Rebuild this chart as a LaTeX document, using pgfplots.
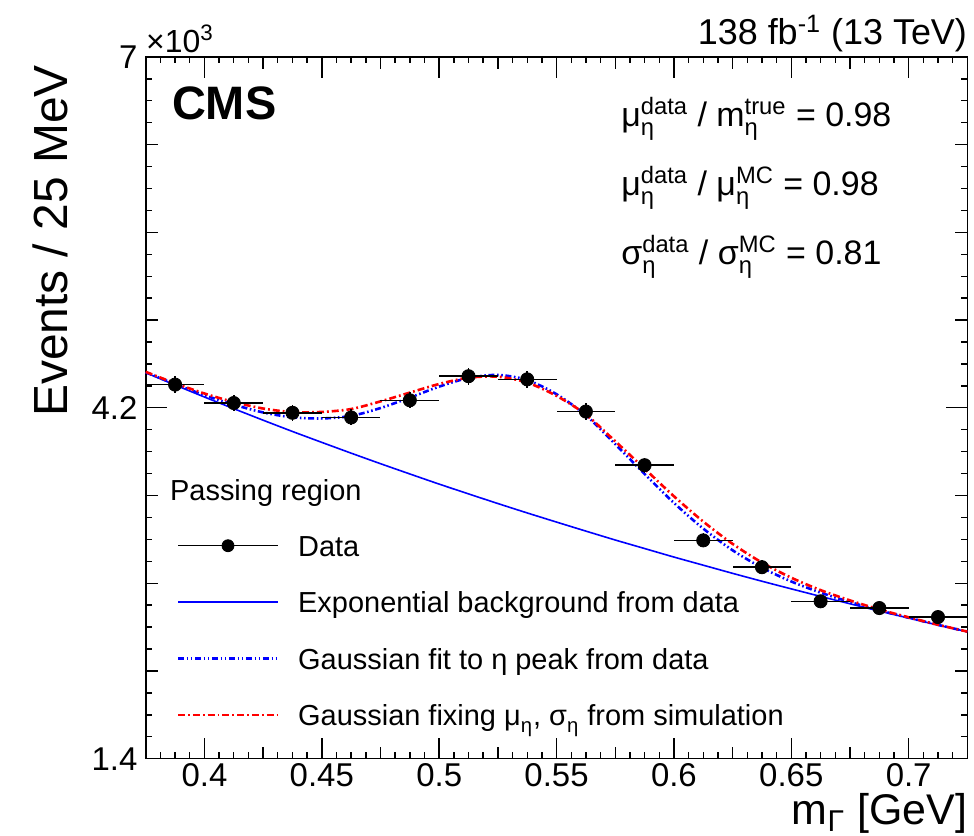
\documentclass[border=0pt]{standalone}
\usepackage{fontspec}
\setmainfont{Liberation Sans}
\usepackage{amsmath}
\usepackage{pgfplots}
\usepackage{pgfplotstable}
\pgfplotsset{compat=1.18}

% symbol with stacked super/subscript, e.g. mu^data_eta
\newcommand{\sm}[3]{#1$^{\text{#2}}_{\text{#3}}$}

\pgfplotstableread{
x      y     ex      ey
0.3875 4385  0.0125  66
0.4125 4238  0.0125  65
0.4375 4160  0.0125  65
0.4625 4123  0.0125  64
0.4875 4260  0.0125  65
0.5125 4452  0.0125  67
0.5375 4427  0.0125  67
0.5625 4170  0.0125  65
0.5875 3742  0.0125  61
0.6125 3142  0.0125  56
0.6375 2928  0.0125  54
0.6625 2656  0.0125  52
0.6875 2602  0.0125  51
0.7125 2530  0.0125  50
}\datatab

% background, fit to data, fit with MC parameters
\pgfplotstableread{
x      bkg   fit   fix
0.375  4480  4483  4487
0.3875 4382  4389  4396
0.4    4286  4301  4314
0.4125 4193  4225  4246
0.425  4101  4163  4194
0.4375 4011  4124  4166
0.45   3924  4115  4167
0.4625 3838  4135  4190
0.475  3754  4198  4251
0.4875 3672  4281  4321
0.5    3591  4369  4390
0.5125 3513  4438  4440
0.525  3436  4462  4448
0.5375 3361  4421  4401
0.55   3288  4308  4295
0.5625 3216  4140  4146
0.575  3145  3910  3933
0.5875 3077  3672  3714
0.6    3009  3441  3494
0.6125 2944  3236  3292
0.625  2879  3063  3114
0.6375 2816  2924  2965
0.65   2755  2814  2844
0.6625 2695  2725  2745
0.675  2636  2650  2663
0.6875 2578  2584  2591
0.7    2522  2525  2528
0.7125 2466  2468  2469
0.725  2413  2414  2414
}\curves

\begin{document}
\begin{tikzpicture}
\begin{axis}[
  scale only axis,
  width=411.5pt, height=351.5pt,
  xmin=0.375, xmax=0.725,
  ymin=1400, ymax=7000,
  clip=false,
  axis line style={line width=0.8pt},
  tick align=inside,
  major tick length=10.5pt,
  minor tick length=3.2pt,
  every tick/.style={black, line width=0.7pt},
  xtick={0.4,0.45,0.5,0.55,0.6,0.65,0.7},
  xticklabels={0.4,0.45,0.5,0.55,0.6,0.65,0.7},
  minor xtick={0.375,0.38125,...,0.7251},
  extra x ticks={0.375,0.4,...,0.7251},
  extra x tick style={major tick length=6pt, xticklabel={}},
  ytick={1400,4200,7000},
  yticklabels={1.4,4.2,7},
  minor ytick={1400,1575,...,7000},
  extra y ticks={1400,2100,...,7000},
  extra y tick style={major tick length=6pt, yticklabel={}},
  tick label style={font=\fontsize{16.5}{19}\selectfont, inner sep=4pt},
  x tick label style={inner sep=2pt},
  ylabel={Events / 25 MeV},
  ylabel style={at={(rel axis cs:-0.0948,0.9886)}, anchor=base east,
    inner sep=0pt, font=\fontsize{24}{28}\selectfont},
  xlabel={m$_{\text{Γ}}$ [GeV]},
  xlabel style={at={(rel axis cs:1,-0.0939)}, anchor=base east,
    inner sep=0pt, font=\fontsize{21.5}{25}\selectfont},
  legend style={at={(0.0373,0.3292)}, anchor=north west, draw=none,
    fill=none, inner sep=0pt, row sep=10.6pt,
    font=\fontsize{14.5}{17.4}\selectfont,
    /tikz/every odd column/.append style={column sep=7.5pt}},
  legend cell align=left,
]
\addplot[blue, line width=0.8pt, smooth, forget plot]
  table[x=x, y=bkg]{\curves};
\addplot[blue, line width=1.3pt, smooth, forget plot,
  dash pattern=on 3pt off 1.3pt on 0.8pt off 1.3pt on 0.8pt off 1.3pt]
  table[x=x, y=fit]{\curves};
\addplot[red, line width=1.3pt, smooth, forget plot,
  dash pattern=on 3.5pt off 1.5pt on 0.9pt off 1.5pt]
  table[x=x, y=fix]{\curves};
\addplot[black, only marks, mark=*, mark size=3.3pt, forget plot,
  error bars/.cd, x dir=both, x explicit, y dir=both, y explicit,
  error mark=none, error bar style={black, line width=0.75pt}]
  table[x=x, y=y, x error=ex, y error=ey]{\datatab};

\addlegendimage{black, legend image code/.code={
  \draw[black, line width=0.75pt] (0pt,0pt) -- (50pt,0pt);
  \fill[black] (25pt,0pt) circle (3pt);}}
\addlegendentry{\strut Data}
\addlegendimage{blue, line width=0.8pt, legend image code/.code={
  \draw[draw=blue, line width=0.8pt] (0pt,0pt) -- (50pt,0pt);}}
\addlegendentry{\strut Exponential background from data}
\addlegendimage{blue, legend image code/.code={
  \draw[draw=blue, line width=1.3pt,
    dash pattern=on 3pt off 1.3pt on 0.8pt off 1.3pt on 0.8pt off 1.3pt]
    (0pt,0pt) -- (50pt,0pt);}}
\addlegendentry{\strut Gaussian fit to η peak from data}
\addlegendimage{red, legend image code/.code={
  \draw[draw=red, line width=1.3pt, dash pattern=on 3.5pt off 1.5pt on 0.9pt off 1.5pt]
    (0pt,0pt) -- (50pt,0pt);}}
\addlegendentry{\strut Gaussian fixing \sm{μ}{}{η}, \sm{σ}{}{η} from simulation}

\node[anchor=base west, inner sep=0pt, font=\fontsize{14.5}{17.4}\selectfont]
  at (rel axis cs:0.0292,0.3684) {Passing region};
\node[anchor=base west, inner sep=0pt, font=\fontsize{23.5}{28}\selectfont\bfseries]
  at (rel axis cs:0.0316,0.9104) {CMS};
\node[anchor=base west, inner sep=0pt, font=\fontsize{17}{20}\selectfont]
  at (rel axis cs:0.5784,0.9004) {\sm{μ}{data}{η} / \sm{m}{true}{η} = 0.98};
\node[anchor=base west, inner sep=0pt, font=\fontsize{17}{20}\selectfont]
  at (rel axis cs:0.5784,0.8023) {\sm{μ}{data}{η} / \sm{μ}{MC}{η} = 0.98};
\node[anchor=base west, inner sep=0pt, font=\fontsize{17}{20}\selectfont]
  at (rel axis cs:0.5784,0.7041) {\sm{σ}{data}{η} / \sm{σ}{MC}{η} = 0.81};
\node[anchor=base east, inner sep=0pt, yshift=6pt, font=\fontsize{18}{21}\selectfont]
  at (rel axis cs:1,1) {138 fb\textsuperscript{-1} (13 TeV)};
\node[anchor=base west, inner sep=0pt, yshift=2pt, font=\fontsize{16}{18}\selectfont]
  at (rel axis cs:0,1) {×10\textsuperscript{3}};
\end{axis}
\path (current axis.south west) ++(-73pt,-38.5pt)
  rectangle ([xshift=2.5pt,yshift=28.5pt]current axis.north east);
\end{tikzpicture}
\end{document}
